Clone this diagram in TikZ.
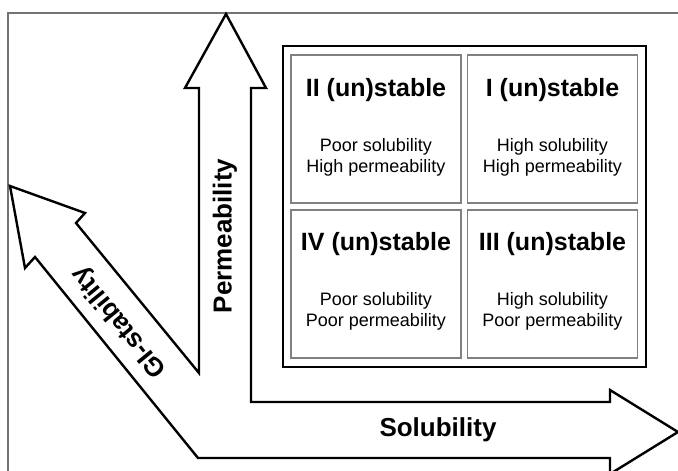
\documentclass[tikz,border=0pt]{standalone}
\usepackage{fontspec}
\setmainfont{Liberation Sans}
\begin{document}
\begin{tikzpicture}[x=1pt,y=-1pt,
  frameline/.style={draw=black!55, line width=1.5pt},
  arrowline/.style={draw=black, line width=2.4pt, line join=miter},
  axislabel/.style={font=\fontsize{26}{30}\selectfont\bfseries, inner sep=0pt},
  gridbox/.style={draw=black, line width=2pt, minimum width=363pt, minimum height=321pt, inner sep=0pt},
  cell/.style={draw=black!50, line width=1.6pt, minimum width=170pt, minimum height=148pt, inner sep=0pt},
  celltitle/.style={font=\fontsize{25}{29}\selectfont\bfseries, inner sep=0pt},
  celltext/.style={font=\fontsize{18}{21}\selectfont, align=center, inner sep=0pt}
]
\useasboundingbox (0,0) rectangle (678,471);
\clip (0,0) rectangle (678,471);
% frame
\draw[frameline] (8,480) -- (8,13) -- (690,13);
% combined axis arrows outline
\draw[arrowline] (226,14) -- (266,88) -- (251,88) -- (251,402) -- (610,402) -- (610,390)
  -- (678,432) -- (610,474) -- (610,458) -- (198,458) -- (35,257) -- (25,268) -- (10,186)
  -- (85,213) -- (76,223) -- (199,373) -- (199,88) -- (185,88) -- cycle;
% axis labels
\node[axislabel, rotate=90] (perm) at (225,236) {Permeability};
\node[axislabel] (sol) at (438,430) {Solubility};
\node[axislabel, rotate=129.2] (gi) at (120,322) {GI-stability};
% grid
\node[gridbox] (grid) at (464.5,206.5) {};
\node[cell] (c2) at (376,129) {};
\node[cell] (c1) at (552.5,129) {};
\node[cell] (c4) at (376,284) {};
\node[cell] (c3) at (552.5,284) {};
% titles
\node[celltitle] (t2) at (376,90) {II (un)stable};
\node[celltitle] (t1) at (552.5,90) {I (un)stable};
\node[celltitle] (t4) at (376,244) {IV (un)stable};
\node[celltitle] (t3) at (552.5,244) {III (un)stable};
% descriptions
\node[celltext] (d2) at (376,157) {Poor solubility\\High permeability};
\node[celltext] (d1) at (552.5,157) {High solubility\\High permeability};
\node[celltext] (d4) at (376,311) {Poor solubility\\Poor permeability};
\node[celltext] (d3) at (552.5,311) {High solubility\\Poor permeability};
\end{tikzpicture}
\end{document}
